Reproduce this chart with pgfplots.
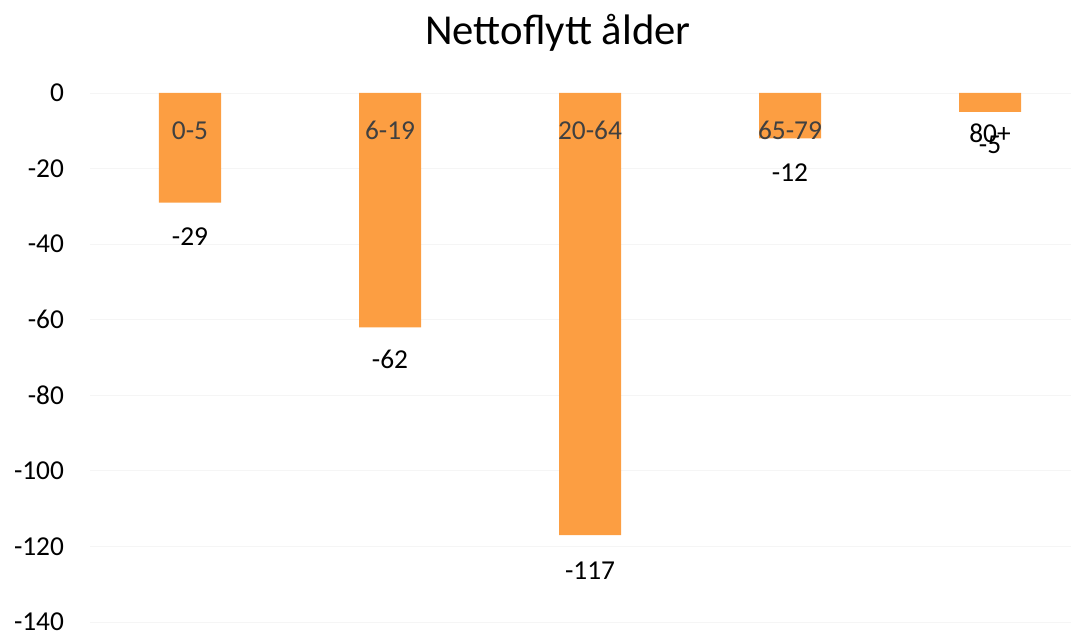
\documentclass[border=0pt]{standalone}
\usepackage{pgfplots}
\pgfplotsset{compat=1.18}
\usepackage{fontspec}
\setmainfont{Carlito}
\definecolor{barorange}{RGB}{252,158,66}
\definecolor{catgray}{RGB}{64,64,64}
\begin{document}
\begin{tikzpicture}[x=1pt,y=1pt]
\path[use as bounding box] (-67.5,-10.5) rectangle (735.75,466.5);
\begin{axis}[
  at={(0,0)}, anchor=south west,
  scale only axis,
  width=735.75pt, height=396.75pt,
  xmin=-0.5, xmax=4.405,
  ymin=-140, ymax=0,
  ytick={-140,-120,...,0},
  xtick=\empty,
  axis line style={draw=none},
  ymajorgrids=true,
  grid style={draw=gray!8, line width=0.6pt},
  major tick length=0pt,
  yticklabel style={font=\fontsize{20.5}{22}\selectfont, text=black, xshift=-16pt},
  /pgf/number format/assume math mode=true,
  ybar, bar width=0.31,
  clip=false,
]
\addplot[fill=barorange, draw=none] coordinates {(0,-29) (1,-62) (2,-117) (3,-12) (4,-5)};
\addplot[draw=none, fill=none, only marks, mark=none,
  nodes near coords, point meta=explicit symbolic,
  every node near coord/.style={font=\fontsize{20.5}{22}\selectfont, text=black, anchor=center}]
  coordinates {(0,-38)[-29] (1,-70.5)[-62] (2,-126.5)[-117] (3,-21)[-12] (4,-13.8)[-5]};
\node[font=\fontsize{20.5}{22}\selectfont, text=catgray] at (axis cs:0,-10) {0-5};
\node[font=\fontsize{20.5}{22}\selectfont, text=catgray] at (axis cs:1,-10) {6-19};
\node[font=\fontsize{20.5}{22}\selectfont, text=catgray] at (axis cs:2,-10) {20-64};
\node[font=\fontsize{20.5}{22}\selectfont, text=catgray] at (axis cs:3,-10) {65-79};
\node[font=\fontsize{20.5}{22}\selectfont, text=black] at (axis cs:4,-10.6) {80+};
\node[font=\fontsize{32}{36}\selectfont, text=black] at (axis cs:1.84,16) {Nettoflytt ålder};
\end{axis}
\end{tikzpicture}
\end{document}
